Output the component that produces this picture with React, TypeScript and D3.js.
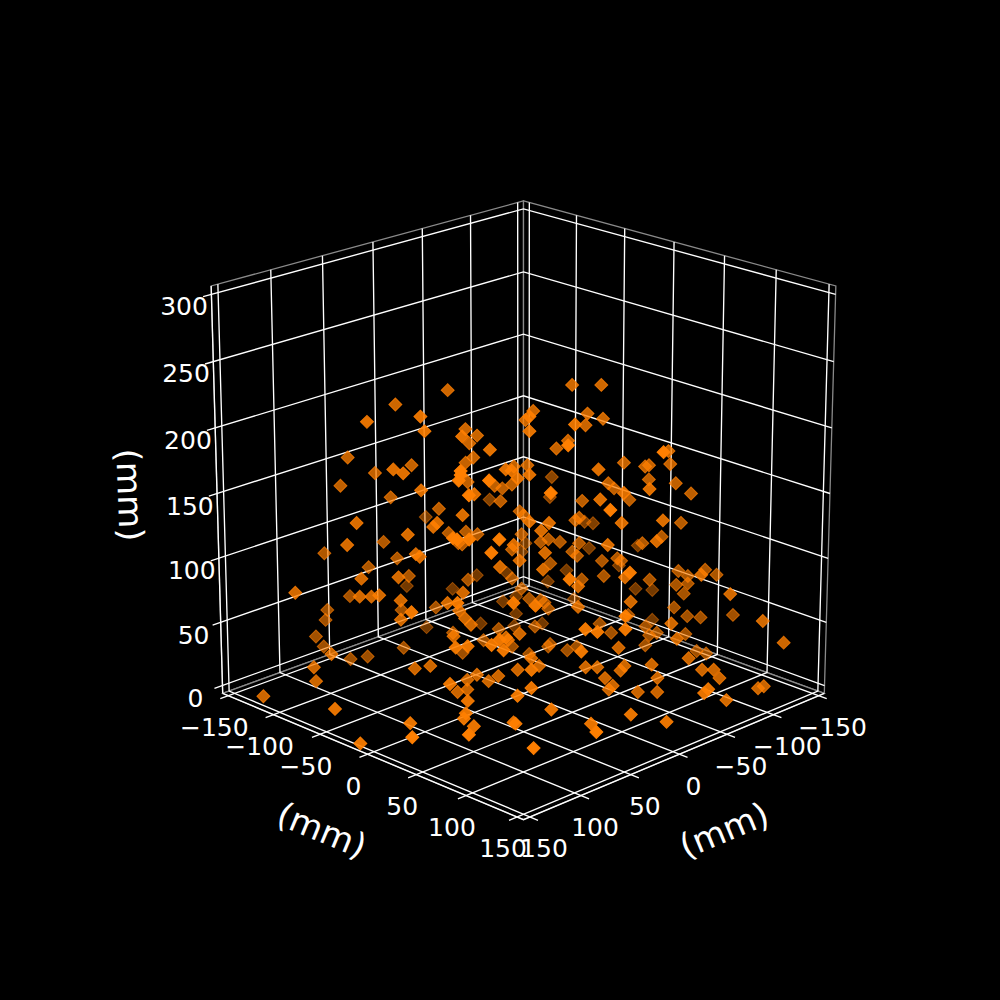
import React from 'react';
import * as d3 from 'd3';

// points in mm, same order in the three lists
const xValues = [4,31,86,59,57,56,42,60,73,68,23,34,59,9,-26,92,51,
-60,-75,-40,4,-36,4,-68,-76,-19,-67,-5,38,-11,-7,24,-52,-58,35,-9,-5,88,88,89,-6,16,-30,13,-37,4,10,74,-20,-24,-29,-93,44,-92,84,32,-60,-23,38,-33,-35,4,-6,-64,-62,-111,-115,-66,-32,14,-31,-87,-79,-82,-44,-90,-43,
-12,-110,-111,-98,-100,-100,-57,-114,-122,-64,-117,-107,-61,-97,-139,-86,4,-45,-101,
-138,-147,-116,-121,-84,-130,-136,-115,-121,-119,-99,-48,-114,-121,-128,-145,-116,-127,-143,-90,6,-69,-95,-101,-97,6,-116,-72,-95,-42,-121,-126,-74,
66,97,69,38,31,62,60,46,90,71,25,-16,-40,124,56,91,85,81,70,68,69,29,113,70,-22,11,46,90,78,6,43,53,4,92,-1,
90,-5,84,-11,-3,69,73,-2,-34,-79,12,-29,-77,9,-44,-48,-54,-4,-64,-61,-63,-113,-36,-76,-84,-129,-77,-49,-3,-101,19,-69,-29,-53,-6,38,-91,34,-66,-21,-34,
-63,62,-70,-38,-44,-46,51,-48,-70,-21,-101,40,37,34,-51,-18,-69,-37,-84,9,16,26,20,-75,-77,
74,106,60,51,32,119,118,150,154,67,59,94,46,121,153,152,91,1,85,
-10,73,69,15,67,-25,-44,-45,-34,7,-54,-59,28,-21,-27,-30,-34,-32,-38,-41,14,53,3,35,24,29,40,41,90,53,65,49,92,93,88,125,68,67,29,62,95,9,
-55,-57,-81,-87,-89,-47,-57,-36,-34,-78,-113,-109,-8];
const yValues = [-74,-101,-72,-45,-43,-126,-112,-130,-59,-54,-93,-104,-45,-79,-130,-78,-37,
-10,5,-30,10,-34,10,-2,6,33,-3,-65,-24,-59,-63,-10,-18,-12,79,-61,-65,26,26,25,-64,-2,-40,1,-33,10,4,40,-50,-46,-41,-63,71,-64,30,-18,-96,-47,-24,-37,-35,10,20,-6,-8,-46,-41,-5,46,100,45,17,9,12,58,20,57,
126,40,41,28,30,30,71,44,52,78,47,37,75,27,-17,16,110,59,31,
-18,-9,46,51,98,60,66,45,51,49,113,62,44,51,58,75,130,141,-5,20,108,83,33,39,35,108,54,86,33,56,61,66,96,
-52,-83,-139,-108,-101,-48,-46,-116,-76,-57,-95,-141,-116,-110,-126,-77,-71,-67,-56,-138,-139,-99,1,-56,-126,-81,-32,24,-140,-68,-29,-39,-74,22,-69,
24,-65,30,-59,-67,45,41,16,-36,-77,2,-41,-79,5,-26,-22,-16,18,-6,-10,-7,-43,50,6,14,-27,7,-21,17,-55,-5,-87,-41,-103,-64,-24,-65,80,-5,35,-36,
-85,52,-78,-32,-26,-24,63,-22,-78,35,-47,-26,-23,-20,-97,-44,-79,-25,-64,5,-2,88,94,5,15,
-136,-92,-122,-113,-94,-97,-96,-118,-36,-45,-37,20,-22,7,43,-12,23,-63,29,
-52,41,45,-1,47,-37,-18,-17,-28,15,-8,-3,86,43,49,54,58,56,62,63,8,61,19,-13,-2,-7,-18,-17,34,61,59,77,34,33,38,71,58,59,97,134,105,117,
77,81,103,109,113,71,81,150,148,130,135,133,136];
const zValues = [212,201,208,212,201,160,148,138,172,169,154,129,156,120,91,131,131,
216,216,196,212,189,201,194,190,206,185,182,197,177,171,187,167,173,215,160,156,196,193,189,141,172,153,171,154,168,165,189,138,136,139,123,180,107,178,153,105,126,137,118,115,132,131,113,111,87,86,126,149,167,172,156,140,136,154,127,131,
210,165,155,153,154,143,157,140,132,133,109,98,117,93,68,79,120,89,64,
33,32,71,67,91,72,68,60,61,53,76,70,42,35,34,36,55,38,10,36,87,53,29,24,22,77,23,41,14,34,10,8,28,
122,114,85,94,81,107,105,74,88,89,67,35,33,77,51,74,74,75,71,40,32,40,90,56,4,42,69,97,21,24,43,128,101,146,93,
145,102,145,100,92,145,135,125,100,70,114,88,63,102,94,96,94,108,93,86,83,66,114,79,81,
52,67,77,95,48,97,46,65,44,64,77,39,115,64,82,57,25,97,29,49,48,46,95,41,15,66,27,63,57,52,7,27,5,29,7,45,42,77,75,29,24,
13,29,3,5,12,21,10,1,17,20,22,35,2,9,19,-3,63,8,64,
18,65,69,40,61,13,13,15,7,28,10,13,60,21,21,13,7,4,19,22,19,46,22,15,14,10,11,4,25,32,29,19,16,12,6,21,9,8,8,23,12,15,
23,13,19,19,13,2,2,31,28,4,6,5,10];

const axisTicks = [-150, -100, -50, 0, 50, 100, 150];
const heightTicks = [0, 50, 100, 150, 200, 250, 300];
const axisTitle = '(mm)';

const ELEV = (20 * Math.PI) / 180;
const BOX = 0.55; // half side of the cube in view units
const DIST = 10;
const sinE = Math.sin(ELEV);
const cosE = Math.cos(ELEV);

const boxXY = d3.scaleLinear().domain([-156.25, 156.25]).range([-BOX, BOX]);
const boxZ = d3.scaleLinear().domain([-6.25, 306.25]).range([-BOX, BOX]);
const screenX = d3.scaleLinear().domain([0, 1]).range([523.5, 523.5 + 3940]);
const screenY = d3.scaleLinear().domain([0, 1]).range([493.5, 493.5 - 3940]);
const shade = d3.scaleLinear().domain([-140, -40, 90]).range([0.45, 0.78, 1]).clamp(true);

const LO = -156.25;
const HI = 156.25;
const FLOOR = -6.25;
const TOP = 306.25;
const TICK_END = 164;

function viewDepth(x: number, y: number, z: number) {
  const X = boxXY(x), Y = boxXY(y), Z = boxZ(z);
  return (cosE * (X + Y)) / Math.SQRT2 + sinE * Z;
}

function project(x: number, y: number, z: number): [number, number] {
  const X = boxXY(x), Y = boxXY(y), Z = boxZ(z);
  const across = (Y - X) / Math.SQRT2;
  const up = (-sinE * (X + Y)) / Math.SQRT2 + cosE * Z;
  const w = DIST - viewDepth(x, y, z);
  return [screenX(across / w), screenY(up / w)];
}

type P3 = [number, number, number];
const toPath = (pts: P3[], close = false) => {
  const line = d3.line();
  return line(pts.map((p) => project(p[0], p[1], p[2]))) + (close ? 'Z' : '');
};

const panes: P3[][] = [
  [[HI, LO, FLOOR], [LO, LO, FLOOR], [LO, LO, TOP], [HI, LO, TOP]],
  [[LO, HI, FLOOR], [LO, LO, FLOOR], [LO, LO, TOP], [LO, HI, TOP]],
  [[HI, LO, FLOOR], [LO, LO, FLOOR], [LO, HI, FLOOR], [HI, HI, FLOOR]],
];

const gridLines: P3[][] = [
  // y ticks: across the floor, up the right wall
  ...axisTicks.map((t): P3[] => [[TICK_END, t, FLOOR], [LO, t, FLOOR], [LO, t, TOP]]),
  // x ticks: across the floor, up the left wall
  ...axisTicks.map((t): P3[] => [[t, TICK_END, FLOOR], [t, LO, FLOOR], [t, LO, TOP]]),
  // z ticks: around both walls
  ...heightTicks.map((t): P3[] => [[TICK_END, LO, t], [LO, LO, t], [LO, HI, t]]),
];

const axisLines: P3[][] = [
  [[HI, LO, FLOOR], [HI, HI, FLOOR], [LO, HI, FLOOR]],
  [[HI, LO, FLOOR], [HI, LO, TOP]],
];

const points = xValues
  .map((x, i) => ({ x, y: yValues[i], z: zValues[i], depth: viewDepth(x, yValues[i], zValues[i]) / boxXY(1) }))
  .sort((a, b) => d3.ascending(a.depth, b.depth));

const diamond = d3.symbol().type(d3.symbolSquare).size(84)();
const FONT = '"DejaVu Sans", sans-serif';
const tickText = d3.format('');

export default function App() {
  return (
    <svg width={1000} height={1000} style={{ position: 'absolute', left: 0, top: 0, background: '#000' }}>
      <rect width={1000} height={1000} fill="#000" />
      {panes.map((p, i) => (
        <path key={i} d={toPath(p, true)} fill="#000" stroke="#8a8a8a" strokeWidth={1.3} />
      ))}
      {gridLines.map((p, i) => (
        <path key={i} d={toPath(p)} fill="none" stroke="#fff" strokeWidth={1.35} />
      ))}
      {axisLines.map((p, i) => (
        <path key={i} d={toPath(p)} fill="none" stroke="#fff" strokeWidth={1.35} />
      ))}
      {points.map((d, i) => {
        const [sx, sy] = project(d.x, d.y, d.z);
        const a = shade(d.depth);
        return (
          <path
            key={i}
            d={diamond as string}
            transform={`translate(${sx},${sy}) rotate(45)`}
            fill="#ff7f00"
            fillOpacity={a}
            stroke="#ff7f00"
            strokeOpacity={a}
            strokeWidth={1}
          />
        );
      })}
      <g fill="#fff" fontFamily={FONT} fontSize={25} textAnchor="middle" dominantBaseline="central">
        {axisTicks.map((t) => {
          const [sx, sy] = project(HI, t, FLOOR);
          return (
            <text key={t} x={sx - 14} y={sy + 32}>
              {tickText(t)}
            </text>
          );
        })}
        {axisTicks.map((t) => {
          const [sx, sy] = project(t, HI, FLOOR);
          return (
            <text key={t} x={sx + 14} y={sy + 32}>
              {tickText(t)}
            </text>
          );
        })}
        {heightTicks.map((t) => {
          const [sx, sy] = project(TICK_END, LO, t);
          return (
            <text key={t} x={sx - 19} y={sy + 10}>
              {t}
            </text>
          );
        })}
      </g>
      <g fill="#fff" fontFamily={FONT} fontSize={34} textAnchor="middle" dominantBaseline="central">
        <text transform="translate(322,830) rotate(22.5)">{axisTitle}</text>
        <text transform="translate(724,830) rotate(-22.5)">{axisTitle}</text>
        <text transform="translate(130,495) rotate(88)">{axisTitle}</text>
      </g>
    </svg>
  );
}
